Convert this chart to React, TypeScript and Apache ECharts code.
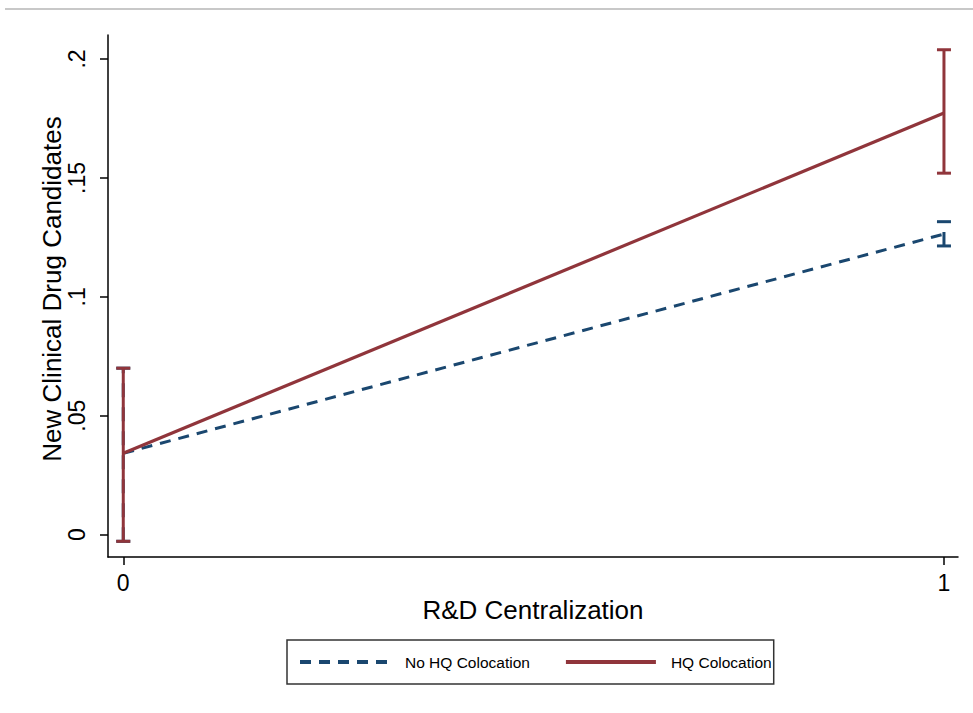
import React, { useEffect, useRef } from "react";
import * as echarts from "echarts";

const xTicks = [0, 1];
const xTickLabels = ["0", "1"];
const yTicks = [0, 0.05, 0.1, 0.15, 0.2];
const yTickLabels = ["0", ".05", ".1", ".15", ".2"];

const seriesNames = ["No HQ Colocation", "HQ Colocation"];
const xValues = [0, 1];
const noHQMean = [0.0342, 0.1264];
const noHQLow = [-0.0028, 0.1214];
const noHQHigh = [0.07, 0.1316];
const hqMean = [0.0342, 0.1773];
const hqLow = [-0.0028, 0.152];
const hqHigh = [0.07, 0.2039];

const NAVY = "#1a476f";
const MAROON = "#90353b";
const FONT = "'Liberation Sans', Arial, sans-serif";

function errorBarSeries(name: string, low: number[], high: number[], color: string, dashed: boolean, z: number) {
  return {
    type: "custom",
    name: name + " CI",
    z,
    silent: true,
    data: xValues.map((x, i) => [x, low[i], high[i]]),
    renderItem: (params: any, api: any) => {
      const x = api.value(0);
      const pLo = api.coord([x, api.value(1)]);
      const pHi = api.coord([x, api.value(2)]);
      const hw = 7;
      const base = { stroke: color, lineWidth: 3, fill: "none" };
      return {
        type: "group",
        children: [
          {
            type: "line",
            shape: { x1: pLo[0], y1: pLo[1], x2: pHi[0], y2: pHi[1] },
            style: dashed ? { ...base, lineDash: [14, 10] } : base,
          },
          { type: "line", shape: { x1: pLo[0] - hw, y1: pLo[1], x2: pLo[0] + hw, y2: pLo[1] }, style: base },
          { type: "line", shape: { x1: pHi[0] - hw, y1: pHi[1], x2: pHi[0] + hw, y2: pHi[1] }, style: base },
        ],
      };
    },
  };
}

export default function App() {
  const ref = useRef<HTMLDivElement>(null);
  useEffect(() => {
    document.body.style.margin = "0";
    if (!ref.current) return;
    const chart = echarts.init(ref.current, null, { renderer: "svg" });
    const option: any = {
      animation: false,
      backgroundColor: "#ffffff",
      textStyle: { fontFamily: FONT },
      grid: { left: 108, right: 15, top: 35, bottom: 156, containLabel: false },
      xAxis: {
        type: "value",
        min: -0.0186,
        max: 1.0171,
        name: "R&D Centralization",
        nameLocation: "middle",
        nameGap: 40,
        nameMoveOverlap: false,
        nameTextStyle: { fontSize: 26, color: "#000", fontFamily: FONT },
        axisLine: { show: true, onZero: false, lineStyle: { color: "#000", width: 1.5 } },
        axisTick: { show: true, length: 8, lineStyle: { color: "#000", width: 1.5 }, customValues: xTicks },
        axisLabel: {
          fontSize: 23,
          color: "#000",
          margin: 14,
          fontFamily: FONT,
          customValues: xTicks,
          formatter: (v: number) => xTickLabels[xTicks.indexOf(v)] ?? "",
        },
        splitLine: { show: false },
      },
      yAxis: {
        type: "value",
        min: -0.0094,
        max: 0.2101,
        name: "New Clinical Drug Candidates",
        nameLocation: "middle",
        nameRotate: 90,
        nameGap: 43,
        nameMoveOverlap: false,
        nameTextStyle: { fontSize: 26, color: "#000", fontFamily: FONT, padding: [0, 0, 0, 14] },
        axisLine: { show: true, onZero: false, lineStyle: { color: "#000", width: 1.5 } },
        axisTick: { show: true, length: 8, lineStyle: { color: "#000", width: 1.5 }, customValues: yTicks },
        axisLabel: {
          fontSize: 23,
          color: "#000",
          rotate: 90,
          margin: 20,
          fontFamily: FONT,
          customValues: yTicks,
          formatter: (v: number) => {
            const i = yTicks.findIndex((t) => Math.abs(t - v) < 1e-9);
            return i >= 0 ? yTickLabels[i] : "";
          },
        },
        splitLine: { show: false },
      },
      legend: {
        data: seriesNames,
        left: 287,
        top: 640,
        orient: "horizontal",
        itemWidth: 90,
        itemHeight: 14,
        itemGap: 34,
        padding: [14, 2, 14, 11],
        borderColor: "#333",
        borderWidth: 1.5,
        borderRadius: 0,
        itemStyle: { opacity: 0 },
        lineStyle: { width: 4 },
        textStyle: { fontSize: 15.5, color: "#000", fontFamily: FONT, padding: [0, 0, 0, 10] },
        selectedMode: false,
      },
      graphic: [
        {
          type: "line",
          shape: { x1: 5, y1: 9, x2: 973, y2: 9 },
          style: { stroke: "#c8c8c8", lineWidth: 2 },
        },
      ],
      series: [
        errorBarSeries(seriesNames[0], noHQLow, noHQHigh, NAVY, true, 1),
        {
          type: "line",
          name: seriesNames[0],
          z: 2,
          data: xValues.map((x, i) => [x, noHQMean[i]]),
          symbol: "none",
          lineStyle: { color: NAVY, width: 3, type: [11, 8] },
          itemStyle: { color: NAVY },
        },
        errorBarSeries(seriesNames[1], hqLow, hqHigh, MAROON, false, 3),
        {
          type: "line",
          name: seriesNames[1],
          z: 4,
          data: xValues.map((x, i) => [x, hqMean[i]]),
          symbol: "none",
          lineStyle: { color: MAROON, width: 3.2 },
          itemStyle: { color: MAROON },
        },
      ],
    };
    chart.setOption(option);
    return () => chart.dispose();
  }, []);
  return <div ref={ref} style={{ width: 973, height: 713 }} />;
}
